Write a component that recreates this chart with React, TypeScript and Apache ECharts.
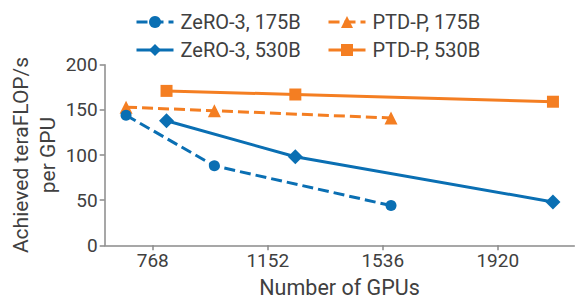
import React, { useEffect, useRef } from "react";
import * as echarts from "echarts";

// GPU counts per model size
const gpus175B = [384, 768, 1536];
const gpus530B = [560, 1120, 2240];
// Achieved teraFLOP/s per GPU
const zero3_175B = [144, 88, 44];
const ptdp_175B = [153, 149, 141];
const zero3_530B = [138, 98, 48];
const ptdp_530B = [171, 167, 159];
// x tick positions (in GPU units, as drawn) and their printed labels
const xTickValues = [500, 1000, 1500, 2000];
const xTickLabels = ["768", "1152", "1536", "1920"];
const yTicks = [0, 50, 100, 150, 200];

const seriesNames = ["ZeRO-3, 175B", "PTD-P, 175B", "ZeRO-3, 530B", "PTD-P, 530B"];

const BLUE = "#0a6fb3";
const ORANGE = "#f47e22";
const TEXT = "#404040";
const AXIS = "#8a8a8a";
const FONT = "Roboto";

const pairs = (xs: number[], ys: number[]) => xs.map((x, i) => [x, ys[i]]);

export default function App() {
  const ref = useRef<HTMLDivElement>(null);
  useEffect(() => {
    if (!ref.current) return;
    const chart = echarts.init(ref.current, null, { renderer: "svg" });
    const xMin = 384 - 0.05 * (2240 - 384);
    const xMax = 2240 + 0.05 * (2240 - 384);
    const legendBase = {
      orient: "horizontal",
      itemWidth: 37,
      itemHeight: 15,
      lineStyle: { width: 3 },
      textStyle: { color: TEXT, fontSize: 20, fontFamily: FONT, padding: [0, 0, 0, 2] },
    };
    chart.setOption({
      animation: false,
      textStyle: { fontFamily: FONT },
      grid: {
        left: 104.7,
        right: 5.7,
        top: 64.7,
        bottom: 58.7,
        containLabel: false,
        outerBoundsMode: "none",
      },
      legend: [
        { ...legendBase, data: [seriesNames[0]], left: 130, top: 7 },
        { ...legendBase, data: [seriesNames[1]], left: 322, top: 7 },
        { ...legendBase, data: [seriesNames[2]], left: 130, top: 35 },
        { ...legendBase, data: [seriesNames[3]], left: 322, top: 35 },
      ],
      xAxis: {
        type: "value",
        min: xMin,
        max: xMax,
        name: "Number of GPUs",
        nameLocation: "middle",
        nameGap: 31,
        nameMoveOverlap: false,
        nameTextStyle: { color: TEXT, fontSize: 21.5, fontFamily: FONT },
        splitLine: { show: false },
        axisLine: { show: true, lineStyle: { color: AXIS, width: 1.5 } },
        axisTick: { show: true, length: 5, lineStyle: { color: AXIS, width: 1.5 }, customValues: xTickValues },
        axisLabel: {
          color: TEXT,
          fontSize: 19,
          fontFamily: FONT,
          margin: 6,
          customValues: xTickValues,
          formatter: (v: number) => {
            const i = xTickValues.indexOf(v);
            return i >= 0 ? xTickLabels[i] : "";
          },
        },
      },
      yAxis: {
        type: "value",
        min: yTicks[0],
        max: yTicks[yTicks.length - 1],
        interval: 50,
        name: "Achieved teraFLOP/s\nper GPU",
        nameLocation: "middle",
        nameRotate: 90,
        nameGap: 43,
        nameMoveOverlap: false,
        nameTextStyle: { color: TEXT, fontSize: 21, fontFamily: FONT, lineHeight: 27 },
        splitLine: { show: false },
        axisLine: { show: true, lineStyle: { color: AXIS, width: 1.5 } },
        axisTick: { show: true, length: 5, lineStyle: { color: AXIS, width: 1.5 } },
        axisLabel: { color: TEXT, fontSize: 19, fontFamily: FONT, margin: 7 },
      },
      series: [
        {
          name: seriesNames[0],
          type: "line",
          data: pairs(gpus175B, zero3_175B),
          symbol: "circle",
          symbolSize: 11,
          itemStyle: { color: BLUE },
          lineStyle: { color: BLUE, width: 3, type: [11, 5] },
          z: 3,
        },
        {
          name: seriesNames[1],
          type: "line",
          data: pairs(gpus175B, ptdp_175B),
          symbol: "triangle",
          symbolSize: 13,
          itemStyle: { color: ORANGE },
          lineStyle: { color: ORANGE, width: 3, type: [11, 5] },
          z: 2,
        },
        {
          name: seriesNames[2],
          type: "line",
          data: pairs(gpus530B, zero3_530B),
          symbol: "diamond",
          symbolSize: 15,
          itemStyle: { color: BLUE },
          lineStyle: { color: BLUE, width: 3 },
          z: 3,
        },
        {
          name: seriesNames[3],
          type: "line",
          data: pairs(gpus530B, ptdp_530B),
          symbol: "rect",
          symbolSize: 12,
          itemStyle: { color: ORANGE },
          lineStyle: { color: ORANGE, width: 3 },
          z: 2,
        },
      ],
    });
    return () => chart.dispose();
  }, []);
  return <div ref={ref} style={{ position: "absolute", left: 0, top: 0, width: 580, height: 304 }} />;
}
